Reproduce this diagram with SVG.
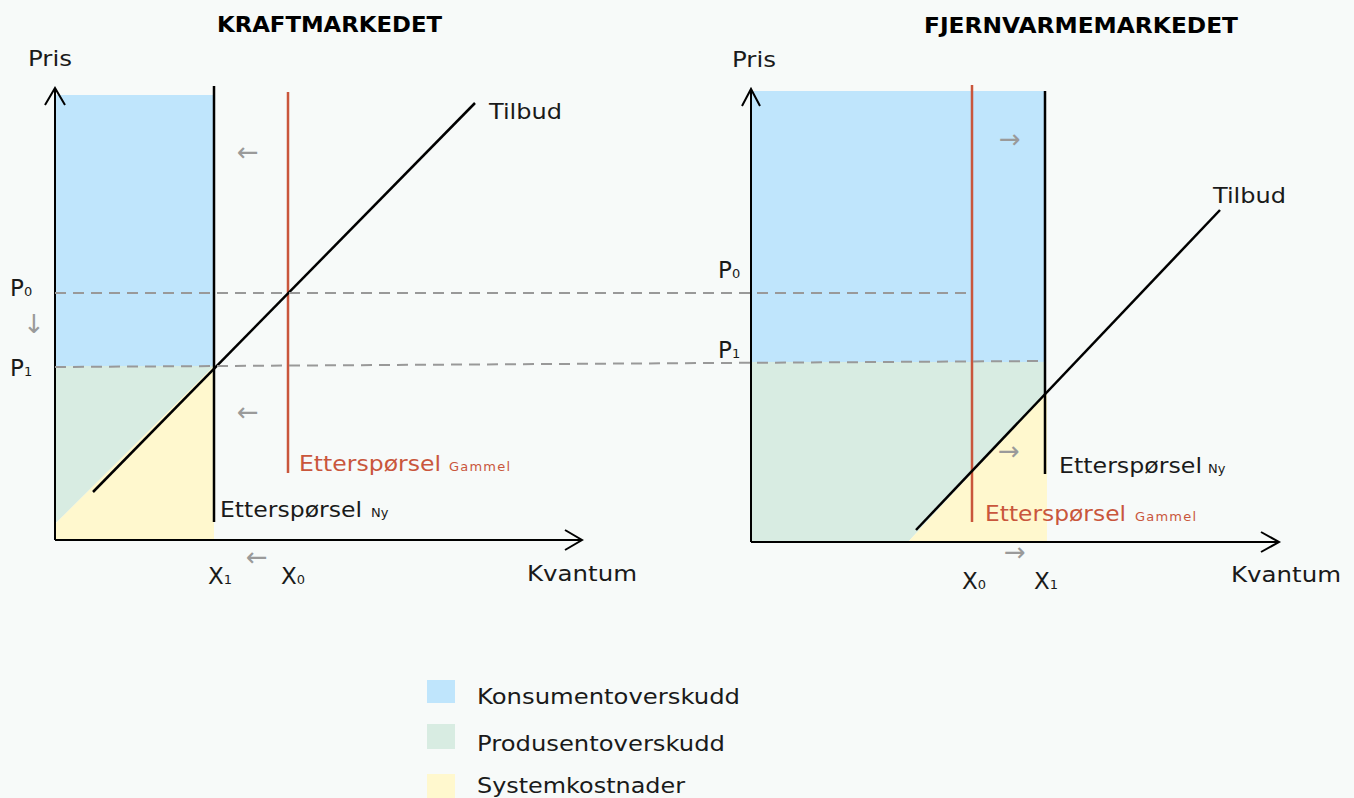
<svg xmlns="http://www.w3.org/2000/svg" width="1354" height="798" viewBox="0 0 1354 798">
<style>
.t{font-family:"DejaVu Sans","Liberation Sans",sans-serif;fill:#1a1a1a}
.title{font-family:"DejaVu Sans","Liberation Sans",sans-serif;font-weight:bold;font-size:22px;fill:#000}
.lab{font-size:22px}
.pl{font-size:23px}
.sub{font-size:13px}
.red{fill:#C9563C}
.arr{font-family:"DejaVu Sans",sans-serif;font-size:26px;fill:#9a9a9a}
.ax{stroke:#000;stroke-width:2;fill:none}
.vl{stroke:#000;stroke-width:2.5;fill:none}
.rl{stroke:#C9563C;stroke-width:2.5;fill:none}
.sup{stroke:#000;stroke-width:2.5;fill:none}
.dash{stroke:#999;stroke-width:2;stroke-dasharray:11 7;fill:none}
.blue{fill:#BFE5FC}
.green{fill:#D8ECE2}
.yellow{fill:#FFF8CE}
</style>
<rect width="1354" height="798" fill="#F7FAF9"/>

<g id="kraftmarkedet">
  <rect class="blue" x="55" y="95" width="159" height="271"/>
  <polygon class="green" points="55,366 214,366 57,522 55,522"/>
  <polygon class="yellow" points="55,524 214,366 214,540 55,540"/>
  <path class="ax" d="M55,540 V88 M45,105 L55,88 L65,105"/>
  <path class="ax" d="M55,540 H582 M565,530 L582,540 L565,550"/>
  <line class="vl" x1="214" y1="86" x2="214" y2="522"/>
  <line class="rl" x1="288" y1="92" x2="288" y2="473"/>
  <line class="sup" x1="93" y1="492" x2="475" y2="103"/>
  <text class="title" x="217" y="32" textLength="225" lengthAdjust="spacingAndGlyphs">KRAFTMARKEDET</text>
  <text class="t lab" x="28" y="66" textLength="44" lengthAdjust="spacingAndGlyphs">Pris</text>
  <text class="t lab" x="489" y="119" textLength="73" lengthAdjust="spacingAndGlyphs">Tilbud</text>
  <text class="t pl" x="10" y="296">P<tspan class="sub" font-size="14">0</tspan></text>
  <text class="arr" x="23" y="333" font-size="22">↓</text>
  <text class="t pl" x="10" y="376">P<tspan class="sub" font-size="14">1</tspan></text>
  <text class="arr" x="237" y="161">←</text>
  <text class="arr" x="237" y="421">←</text>
  <text class="t lab red" x="299" y="471" textLength="142" lengthAdjust="spacingAndGlyphs">Etterspørsel</text>
  <text class="t sub red" x="449" y="471" textLength="61" lengthAdjust="spacing">Gammel</text>
  <text class="t lab" x="220" y="517" textLength="142" lengthAdjust="spacingAndGlyphs">Etterspørsel</text>
  <text class="t sub" x="371" y="517">Ny</text>
  <text class="t pl" x="208" y="584">X<tspan class="sub" font-size="14">1</tspan></text>
  <text class="arr" x="246" y="566" font-size="24">←</text>
  <text class="t pl" x="281" y="584">X<tspan class="sub" font-size="14">0</tspan></text>
  <text class="t lab" x="527" y="581" textLength="110" lengthAdjust="spacingAndGlyphs">Kvantum</text>
</g>

<g id="fjernvarmemarkedet">
  <rect class="blue" x="751" y="91" width="294" height="271"/>
  <polygon class="green" points="751,362 1045,362 1045,394 908,542 751,542"/>
  <polygon class="yellow" points="908,542 1045,394 1047,394 1047,542"/>
  <path class="ax" d="M751,542 V89 M742,106 L751,89 L760,106"/>
  <path class="ax" d="M751,542 H1279 M1261,532 L1279,542 L1261,552"/>
  <line class="vl" x1="1045" y1="91" x2="1045" y2="474"/>
  <line class="rl" x1="972" y1="85" x2="972" y2="522"/>
  <line class="sup" x1="916" y1="530" x2="1220" y2="210"/>
  <text class="title" x="924" y="33" textLength="314" lengthAdjust="spacingAndGlyphs">FJERNVARMEMARKEDET</text>
  <text class="t lab" x="732" y="67" textLength="44" lengthAdjust="spacingAndGlyphs">Pris</text>
  <text class="t lab" x="1213" y="203" textLength="73" lengthAdjust="spacingAndGlyphs">Tilbud</text>
  <text class="t pl" x="718" y="278">P<tspan class="sub" font-size="14">0</tspan></text>
  <text class="t pl" x="718" y="358">P<tspan class="sub" font-size="14">1</tspan></text>
  <text class="arr" x="999" y="148">→</text>
  <text class="arr" x="998" y="460">→</text>
  <text class="t lab" x="1059" y="473" textLength="143" lengthAdjust="spacingAndGlyphs">Etterspørsel</text>
  <text class="t sub" x="1208" y="473">Ny</text>
  <text class="t lab red" x="985" y="521" textLength="141" lengthAdjust="spacingAndGlyphs">Etterspørsel</text>
  <text class="t sub red" x="1135" y="521" textLength="61" lengthAdjust="spacing">Gammel</text>
  <text class="arr" x="1004" y="561" font-size="22">→</text>
  <text class="t pl" x="962" y="589">X<tspan class="sub" font-size="14">0</tspan></text>
  <text class="t pl" x="1034" y="589">X<tspan class="sub" font-size="14">1</tspan></text>
  <text class="t lab" x="1231" y="582" textLength="110" lengthAdjust="spacingAndGlyphs">Kvantum</text>
</g>

<g id="connectors">
  <line class="dash" x1="55" y1="293" x2="972" y2="293"/>
  <line class="dash" x1="55" y1="367" x2="1045" y2="361"/>
</g>

<g id="legend-konsument">
  <rect class="blue" x="427" y="680" width="28" height="23"/>
  <text class="t" font-size="22" x="477" y="704" textLength="263" lengthAdjust="spacingAndGlyphs">Konsumentoverskudd</text>
</g>
<g id="legend-produsent">
  <rect class="green" x="427" y="724" width="28" height="25"/>
  <text class="t" font-size="22" x="477" y="751" textLength="248" lengthAdjust="spacingAndGlyphs">Produsentoverskudd</text>
</g>
<g id="legend-system">
  <rect class="yellow" x="427" y="774" width="28" height="24"/>
  <text class="t" font-size="22" x="477" y="793" textLength="208" lengthAdjust="spacingAndGlyphs">Systemkostnader</text>
</g>
</svg>
